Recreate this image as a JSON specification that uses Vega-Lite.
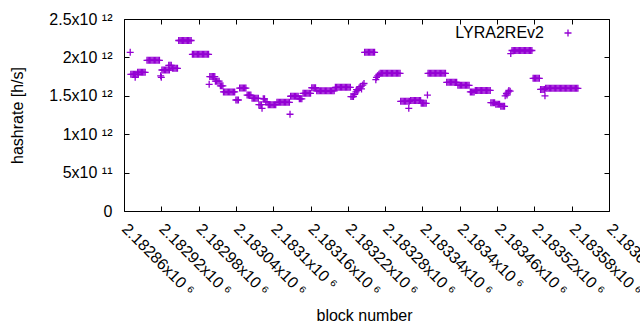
{
"$schema": "https://vega.github.io/schema/vega-lite/v6.json",
"width": 485, "height": 192,
"autosize": "none",
"padding": {"left": 124, "top": 19, "right": 31, "bottom": 119},
"background": "white",
"config": {"view": {"stroke": "black", "strokeWidth": 1}, "font": "Liberation Sans",
 "axis": {"labelFont": "Liberation Sans", "labelFontSize": 16, "labelColor": "#000", "titleFont": "Liberation Sans", "titleFontSize": 16, "titleFontWeight": "normal", "titleColor": "#000", "tickColor": "#000", "grid": false, "domain": false},
 "legend": {"labelFont": "Liberation Sans", "labelFontSize": 16, "labelColor": "#000"}},
"data": {"values": [
{"block":2182870,"hashrate":2.066e12},
{"block":2182871,"hashrate":1.78e12},{"block":2182873,"hashrate":1.78e12},{"block":2182875,"hashrate":1.78e12},{"block":2182877,"hashrate":1.78e12},{"block":2182879,"hashrate":1.78e12},{"block":2182881,"hashrate":1.78e12},{"block":2182883,"hashrate":1.78e12},
{"block":2182878,"hashrate":1.74e12},
{"block":2182882,"hashrate":1.806e12},{"block":2182884,"hashrate":1.806e12},{"block":2182886,"hashrate":1.806e12},{"block":2182888,"hashrate":1.806e12},{"block":2182890,"hashrate":1.806e12},{"block":2182892,"hashrate":1.806e12},{"block":2182894,"hashrate":1.806e12},
{"block":2182897,"hashrate":1.962e12},{"block":2182899,"hashrate":1.962e12},{"block":2182901,"hashrate":1.962e12},{"block":2182903,"hashrate":1.962e12},{"block":2182905,"hashrate":1.962e12},{"block":2182907,"hashrate":1.962e12},{"block":2182909,"hashrate":1.962e12},{"block":2182911,"hashrate":1.962e12},{"block":2182913,"hashrate":1.962e12},{"block":2182915,"hashrate":1.962e12},{"block":2182917,"hashrate":1.962e12},
{"block":2182919,"hashrate":1.76e12},{"block":2182920,"hashrate":1.74e12},
{"block":2182921,"hashrate":1.836e12},{"block":2182923,"hashrate":1.836e12},{"block":2182925,"hashrate":1.836e12},{"block":2182927,"hashrate":1.836e12},{"block":2182929,"hashrate":1.836e12},{"block":2182931,"hashrate":1.836e12},{"block":2182933,"hashrate":1.836e12},
{"block":2182932,"hashrate":1.897e12},{"block":2182934,"hashrate":1.897e12},{"block":2182936,"hashrate":1.897e12},
{"block":2182938,"hashrate":1.858e12},{"block":2182940,"hashrate":1.858e12},{"block":2182942,"hashrate":1.858e12},{"block":2182944,"hashrate":1.858e12},{"block":2182946,"hashrate":1.858e12},
{"block":2182948,"hashrate":2.22e12},{"block":2182950,"hashrate":2.22e12},{"block":2182952,"hashrate":2.22e12},{"block":2182954,"hashrate":2.22e12},{"block":2182956,"hashrate":2.22e12},{"block":2182958,"hashrate":2.22e12},{"block":2182960,"hashrate":2.22e12},{"block":2182962,"hashrate":2.22e12},{"block":2182964,"hashrate":2.22e12},{"block":2182966,"hashrate":2.22e12},{"block":2182968,"hashrate":2.22e12},
{"block":2182970,"hashrate":2.04e12},{"block":2182972,"hashrate":2.04e12},{"block":2182974,"hashrate":2.04e12},{"block":2182976,"hashrate":2.04e12},{"block":2182978,"hashrate":2.04e12},{"block":2182980,"hashrate":2.04e12},{"block":2182982,"hashrate":2.04e12},{"block":2182984,"hashrate":2.04e12},{"block":2182986,"hashrate":2.04e12},{"block":2182988,"hashrate":2.04e12},{"block":2182990,"hashrate":2.04e12},{"block":2182992,"hashrate":2.04e12},{"block":2182994,"hashrate":2.04e12},{"block":2182996,"hashrate":2.04e12},
{"block":2182997,"hashrate":1.65e12},
{"block":2182998,"hashrate":1.75e12},{"block":2183000,"hashrate":1.75e12},{"block":2183002,"hashrate":1.75e12},{"block":2183004,"hashrate":1.75e12},{"block":2183006,"hashrate":1.75e12},
{"block":2183007,"hashrate":1.69e12},{"block":2183009,"hashrate":1.69e12},{"block":2183011,"hashrate":1.69e12},{"block":2183013,"hashrate":1.69e12},
{"block":2183015,"hashrate":1.63e12},{"block":2183017,"hashrate":1.63e12},{"block":2183019,"hashrate":1.63e12},
{"block":2183020,"hashrate":1.55e12},{"block":2183022,"hashrate":1.55e12},{"block":2183024,"hashrate":1.55e12},{"block":2183026,"hashrate":1.55e12},{"block":2183028,"hashrate":1.55e12},{"block":2183030,"hashrate":1.55e12},{"block":2183032,"hashrate":1.55e12},{"block":2183034,"hashrate":1.55e12},{"block":2183036,"hashrate":1.55e12},{"block":2183038,"hashrate":1.55e12},
{"block":2183040,"hashrate":1.445e12},{"block":2183042,"hashrate":1.445e12},{"block":2183044,"hashrate":1.445e12},
{"block":2183046,"hashrate":1.6e12},{"block":2183048,"hashrate":1.6e12},{"block":2183050,"hashrate":1.6e12},{"block":2183052,"hashrate":1.6e12},{"block":2183054,"hashrate":1.6e12},{"block":2183056,"hashrate":1.6e12},
{"block":2183058,"hashrate":1.51e12},{"block":2183060,"hashrate":1.51e12},{"block":2183062,"hashrate":1.51e12},{"block":2183064,"hashrate":1.51e12},
{"block":2183066,"hashrate":1.467e12},{"block":2183068,"hashrate":1.467e12},{"block":2183070,"hashrate":1.467e12},{"block":2183072,"hashrate":1.467e12},{"block":2183074,"hashrate":1.467e12},{"block":2183076,"hashrate":1.467e12},
{"block":2183077,"hashrate":1.384e12},{"block":2183079,"hashrate":1.384e12},{"block":2183081,"hashrate":1.384e12},
{"block":2183082,"hashrate":1.337e12},
{"block":2183084,"hashrate":1.46e12},{"block":2183086,"hashrate":1.46e12},
{"block":2183088,"hashrate":1.42e12},{"block":2183090,"hashrate":1.42e12},
{"block":2183092,"hashrate":1.384e12},{"block":2183094,"hashrate":1.384e12},{"block":2183096,"hashrate":1.384e12},{"block":2183098,"hashrate":1.384e12},{"block":2183100,"hashrate":1.384e12},{"block":2183102,"hashrate":1.384e12},{"block":2183104,"hashrate":1.384e12},
{"block":2183106,"hashrate":1.415e12},{"block":2183108,"hashrate":1.415e12},{"block":2183110,"hashrate":1.415e12},{"block":2183112,"hashrate":1.415e12},{"block":2183114,"hashrate":1.415e12},{"block":2183116,"hashrate":1.415e12},{"block":2183118,"hashrate":1.415e12},{"block":2183120,"hashrate":1.415e12},{"block":2183122,"hashrate":1.415e12},{"block":2183124,"hashrate":1.415e12},{"block":2183126,"hashrate":1.415e12},
{"block":2183127,"hashrate":1.26e12},
{"block":2183128,"hashrate":1.494e12},{"block":2183130,"hashrate":1.494e12},{"block":2183132,"hashrate":1.494e12},{"block":2183134,"hashrate":1.494e12},{"block":2183136,"hashrate":1.494e12},{"block":2183138,"hashrate":1.494e12},{"block":2183140,"hashrate":1.494e12},
{"block":2183142,"hashrate":1.46e12},{"block":2183144,"hashrate":1.46e12},{"block":2183146,"hashrate":1.46e12},
{"block":2183148,"hashrate":1.532e12},{"block":2183150,"hashrate":1.532e12},{"block":2183152,"hashrate":1.532e12},{"block":2183154,"hashrate":1.532e12},{"block":2183156,"hashrate":1.532e12},{"block":2183158,"hashrate":1.532e12},{"block":2183160,"hashrate":1.532e12},
{"block":2183162,"hashrate":1.605e12},{"block":2183164,"hashrate":1.605e12},{"block":2183166,"hashrate":1.605e12},{"block":2183168,"hashrate":1.605e12},
{"block":2183170,"hashrate":1.565e12},{"block":2183172,"hashrate":1.565e12},{"block":2183174,"hashrate":1.565e12},{"block":2183176,"hashrate":1.565e12},{"block":2183178,"hashrate":1.565e12},{"block":2183180,"hashrate":1.565e12},{"block":2183182,"hashrate":1.565e12},{"block":2183184,"hashrate":1.565e12},{"block":2183186,"hashrate":1.565e12},{"block":2183188,"hashrate":1.565e12},{"block":2183190,"hashrate":1.565e12},{"block":2183192,"hashrate":1.565e12},{"block":2183194,"hashrate":1.565e12},{"block":2183196,"hashrate":1.565e12},{"block":2183198,"hashrate":1.565e12},
{"block":2183200,"hashrate":1.61e12},{"block":2183202,"hashrate":1.61e12},{"block":2183204,"hashrate":1.61e12},{"block":2183206,"hashrate":1.61e12},{"block":2183208,"hashrate":1.61e12},{"block":2183210,"hashrate":1.61e12},{"block":2183212,"hashrate":1.61e12},{"block":2183214,"hashrate":1.61e12},{"block":2183216,"hashrate":1.61e12},{"block":2183218,"hashrate":1.61e12},{"block":2183220,"hashrate":1.61e12},{"block":2183222,"hashrate":1.61e12},{"block":2183224,"hashrate":1.61e12},
{"block":2183225,"hashrate":1.49e12},{"block":2183227,"hashrate":1.49e12},{"block":2183229,"hashrate":1.49e12},
{"block":2183231,"hashrate":1.52e12},{"block":2183233,"hashrate":1.55e12},{"block":2183234,"hashrate":1.58e12},{"block":2183236,"hashrate":1.57e12},{"block":2183238,"hashrate":1.6e12},{"block":2183240,"hashrate":1.62e12},{"block":2183242,"hashrate":1.59e12},{"block":2183244,"hashrate":1.64e12},{"block":2183246,"hashrate":1.66e12},
{"block":2183247,"hashrate":2.066e12},
{"block":2183249,"hashrate":2.066e12},{"block":2183251,"hashrate":2.066e12},{"block":2183253,"hashrate":2.066e12},{"block":2183255,"hashrate":2.066e12},{"block":2183257,"hashrate":2.066e12},{"block":2183259,"hashrate":2.066e12},{"block":2183261,"hashrate":2.066e12},{"block":2183263,"hashrate":2.066e12},
{"block":2183265,"hashrate":1.71e12},{"block":2183266,"hashrate":1.74e12},{"block":2183268,"hashrate":1.76e12},{"block":2183270,"hashrate":1.78e12},
{"block":2183272,"hashrate":1.793e12},{"block":2183274,"hashrate":1.793e12},{"block":2183276,"hashrate":1.793e12},{"block":2183278,"hashrate":1.793e12},{"block":2183280,"hashrate":1.793e12},{"block":2183282,"hashrate":1.793e12},{"block":2183284,"hashrate":1.793e12},{"block":2183286,"hashrate":1.793e12},{"block":2183288,"hashrate":1.793e12},{"block":2183290,"hashrate":1.793e12},{"block":2183292,"hashrate":1.793e12},{"block":2183294,"hashrate":1.793e12},{"block":2183296,"hashrate":1.793e12},{"block":2183298,"hashrate":1.793e12},{"block":2183300,"hashrate":1.793e12},{"block":2183302,"hashrate":1.793e12},{"block":2183304,"hashrate":1.793e12},
{"block":2183305,"hashrate":1.428e12},{"block":2183307,"hashrate":1.428e12},{"block":2183309,"hashrate":1.428e12},{"block":2183311,"hashrate":1.428e12},{"block":2183313,"hashrate":1.428e12},{"block":2183315,"hashrate":1.428e12},{"block":2183317,"hashrate":1.428e12},{"block":2183319,"hashrate":1.428e12},
{"block":2183318,"hashrate":1.337e12},
{"block":2183321,"hashrate":1.44e12},{"block":2183323,"hashrate":1.44e12},{"block":2183325,"hashrate":1.44e12},{"block":2183327,"hashrate":1.44e12},{"block":2183329,"hashrate":1.44e12},{"block":2183331,"hashrate":1.44e12},{"block":2183333,"hashrate":1.44e12},{"block":2183335,"hashrate":1.44e12},{"block":2183337,"hashrate":1.44e12},
{"block":2183338,"hashrate":1.402e12},{"block":2183340,"hashrate":1.402e12},{"block":2183342,"hashrate":1.402e12},{"block":2183344,"hashrate":1.402e12},{"block":2183346,"hashrate":1.402e12},
{"block":2183348,"hashrate":1.51e12},
{"block":2183349,"hashrate":1.793e12},{"block":2183351,"hashrate":1.793e12},{"block":2183353,"hashrate":1.793e12},{"block":2183355,"hashrate":1.793e12},{"block":2183357,"hashrate":1.793e12},{"block":2183359,"hashrate":1.793e12},{"block":2183361,"hashrate":1.793e12},{"block":2183363,"hashrate":1.793e12},{"block":2183365,"hashrate":1.793e12},{"block":2183367,"hashrate":1.793e12},{"block":2183369,"hashrate":1.793e12},{"block":2183371,"hashrate":1.793e12},{"block":2183373,"hashrate":1.793e12},{"block":2183375,"hashrate":1.793e12},{"block":2183377,"hashrate":1.793e12},
{"block":2183379,"hashrate":1.676e12},{"block":2183381,"hashrate":1.676e12},{"block":2183383,"hashrate":1.676e12},{"block":2183385,"hashrate":1.676e12},{"block":2183387,"hashrate":1.676e12},{"block":2183389,"hashrate":1.676e12},{"block":2183391,"hashrate":1.676e12},{"block":2183393,"hashrate":1.676e12},{"block":2183395,"hashrate":1.676e12},
{"block":2183397,"hashrate":1.637e12},{"block":2183399,"hashrate":1.637e12},{"block":2183401,"hashrate":1.637e12},{"block":2183403,"hashrate":1.637e12},{"block":2183405,"hashrate":1.637e12},{"block":2183407,"hashrate":1.637e12},{"block":2183409,"hashrate":1.637e12},{"block":2183411,"hashrate":1.637e12},{"block":2183413,"hashrate":1.637e12},{"block":2183415,"hashrate":1.637e12},
{"block":2183417,"hashrate":1.55e12},{"block":2183419,"hashrate":1.55e12},{"block":2183421,"hashrate":1.55e12},{"block":2183423,"hashrate":1.55e12},
{"block":2183425,"hashrate":1.57e12},{"block":2183427,"hashrate":1.57e12},{"block":2183429,"hashrate":1.57e12},{"block":2183431,"hashrate":1.57e12},{"block":2183433,"hashrate":1.57e12},{"block":2183435,"hashrate":1.57e12},{"block":2183437,"hashrate":1.57e12},{"block":2183439,"hashrate":1.57e12},{"block":2183441,"hashrate":1.57e12},{"block":2183443,"hashrate":1.57e12},{"block":2183445,"hashrate":1.57e12},{"block":2183447,"hashrate":1.57e12},{"block":2183449,"hashrate":1.57e12},
{"block":2183450,"hashrate":1.41e12},{"block":2183452,"hashrate":1.41e12},{"block":2183454,"hashrate":1.41e12},{"block":2183456,"hashrate":1.41e12},
{"block":2183458,"hashrate":1.39e12},{"block":2183460,"hashrate":1.39e12},{"block":2183462,"hashrate":1.39e12},{"block":2183464,"hashrate":1.39e12},
{"block":2183466,"hashrate":1.363e12},{"block":2183468,"hashrate":1.363e12},{"block":2183470,"hashrate":1.363e12},{"block":2183472,"hashrate":1.363e12},
{"block":2183473,"hashrate":1.5e12},{"block":2183475,"hashrate":1.53e12},{"block":2183476,"hashrate":1.51e12},{"block":2183478,"hashrate":1.55e12},{"block":2183479,"hashrate":1.57e12},{"block":2183481,"hashrate":1.56e12},
{"block":2183482,"hashrate":2.05e12},
{"block":2183484,"hashrate":2.09e12},{"block":2183486,"hashrate":2.09e12},{"block":2183488,"hashrate":2.09e12},{"block":2183490,"hashrate":2.09e12},{"block":2183492,"hashrate":2.09e12},{"block":2183494,"hashrate":2.09e12},{"block":2183496,"hashrate":2.09e12},{"block":2183498,"hashrate":2.09e12},{"block":2183500,"hashrate":2.09e12},{"block":2183502,"hashrate":2.09e12},{"block":2183504,"hashrate":2.09e12},{"block":2183506,"hashrate":2.09e12},{"block":2183508,"hashrate":2.09e12},{"block":2183510,"hashrate":2.09e12},{"block":2183512,"hashrate":2.09e12},{"block":2183514,"hashrate":2.09e12},{"block":2183516,"hashrate":2.09e12},
{"block":2183518,"hashrate":1.727e12},{"block":2183520,"hashrate":1.727e12},{"block":2183522,"hashrate":1.727e12},{"block":2183524,"hashrate":1.727e12},{"block":2183526,"hashrate":1.727e12},{"block":2183528,"hashrate":1.727e12},
{"block":2183530,"hashrate":1.583e12},{"block":2183532,"hashrate":1.583e12},{"block":2183534,"hashrate":1.583e12},{"block":2183536,"hashrate":1.583e12},
{"block":2183537,"hashrate":1.5e12},
{"block":2183538,"hashrate":1.597e12},{"block":2183540,"hashrate":1.597e12},{"block":2183542,"hashrate":1.597e12},{"block":2183544,"hashrate":1.597e12},{"block":2183546,"hashrate":1.597e12},{"block":2183548,"hashrate":1.597e12},{"block":2183550,"hashrate":1.597e12},{"block":2183552,"hashrate":1.597e12},{"block":2183554,"hashrate":1.597e12},{"block":2183556,"hashrate":1.597e12},{"block":2183558,"hashrate":1.597e12},{"block":2183560,"hashrate":1.597e12},{"block":2183562,"hashrate":1.597e12},{"block":2183564,"hashrate":1.597e12},{"block":2183566,"hashrate":1.597e12},{"block":2183568,"hashrate":1.597e12},{"block":2183570,"hashrate":1.597e12},{"block":2183572,"hashrate":1.597e12},{"block":2183574,"hashrate":1.597e12},{"block":2183576,"hashrate":1.597e12},{"block":2183578,"hashrate":1.597e12},{"block":2183580,"hashrate":1.597e12},{"block":2183582,"hashrate":1.597e12},{"block":2183584,"hashrate":1.597e12},{"block":2183586,"hashrate":1.597e12},{"block":2183588,"hashrate":1.597e12},{"block":2183590,"hashrate":1.597e12}
]},
"layer": [
 {"mark": {"type": "point", "shape": "M-1,0L1,0M0,-1L0,1", "filled": false, "size": 49, "strokeWidth": 1.3, "opacity": 1},
  "encoding": {
   "x": {"field": "block", "type": "quantitative", "scale": {"domain": [2182860, 2183640], "nice": false, "zero": false},
     "axis": {"orient": "bottom", "values": [2182860,2182920,2182980,2183040,2183100,2183160,2183220,2183280,2183340,2183400,2183460,2183520,2183580,2183640],
       "labelExpr": "format(datum.value/1e6,'.5~f')+'x10 ⁶'", "labelAngle": 45, "labelAlign": "left", "labelBaseline": "middle", "labelPadding": 20, "tickSize": -5, "labelOverlap": false, "labelFlush": false, "labelBound": false,
       "title": "block number", "titleX": 240, "titleY": 104, "titleBaseline": "middle", "titleAlign": "center"}},
   "y": {"field": "hashrate", "type": "quantitative", "scale": {"domain": [0, 2.5e12], "nice": false},
     "axis": {"orient": "left", "values": [0, 5e11, 1e12, 1.5e12, 2e12, 2.5e12],
       "labelExpr": "datum.value==0 ? '0' : (datum.value < 1e12 ? format(datum.value/1e11,'~g')+'x10 ¹¹' : format(datum.value/1e12,'~g')+'x10 ¹²')",
       "labelPadding": 17, "tickSize": -5, "labelOverlap": false, "labelFlush": false,
       "title": "hashrate [h/s]", "titleX": -107, "titleY": 96, "titleAngle": -90, "titleAlign": "center", "titleBaseline": "middle"}},
   "color": {"datum": "LYRA2REv2", "type": "nominal", "scale": {"range": ["#9400d3"]},
     "legend": {"title": null, "orient": "none", "legendX": 436, "legendY": 6, "symbolType": "M-1,0L1,0M0,-1L0,1", "symbolSize": 49, "symbolStrokeWidth": 1.3, "symbolFillColor": "transparent", "labelAlign": "right", "labelOffset": -32, "padding": 0}}
  }},
 {"mark": {"type": "point", "opacity": 0},
  "encoding": {
   "x": {"field": "block", "type": "quantitative", "axis": {"orient": "top", "values": [2182860,2182920,2182980,2183040,2183100,2183160,2183220,2183280,2183340,2183400,2183460,2183520,2183580,2183640], "labels": false, "tickSize": -5, "title": null}},
   "y": {"field": "hashrate", "type": "quantitative", "axis": {"orient": "right", "values": [0, 5e11, 1e12, 1.5e12, 2e12, 2.5e12], "labels": false, "tickSize": -5, "title": null}}
  }}
],
"resolve": {"axis": {"x": "independent", "y": "independent"}}
}
